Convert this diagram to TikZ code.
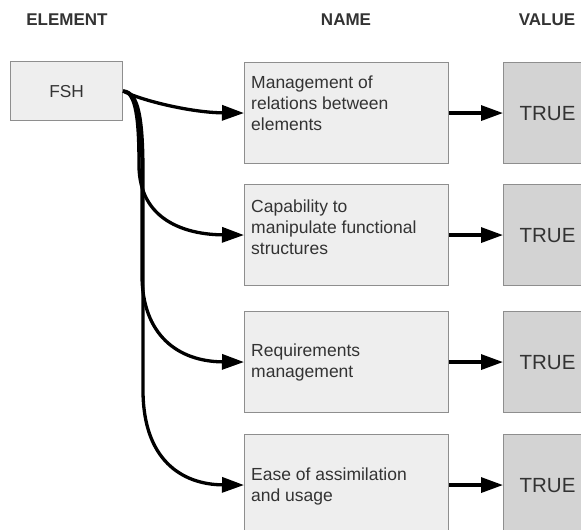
\documentclass[tikz,border=0pt]{standalone}
\usepackage{fontspec}
\setmainfont{Liberation Sans}
\usetikzlibrary{arrows.meta,calc}

\definecolor{inktext}{HTML}{333333}
\definecolor{paleface}{HTML}{EEEEEE}
\definecolor{valueface}{HTML}{D3D3D3}
\definecolor{boxline}{HTML}{8E8E8E}

\begin{document}
\begin{tikzpicture}[x=1pt,y=-1pt,
  header/.style={font=\fontsize{17}{20}\selectfont\bfseries, text=inktext, anchor=base},
  cellbox/.style={draw=boxline, line width=1.1pt, anchor=north west, inner sep=0pt},
  elembox/.style={cellbox, fill=paleface, minimum width=112, minimum height=59},
  namebox/.style={cellbox, fill=paleface, minimum width=204, minimum height=101},
  valuebox/.style={cellbox, fill=valueface, minimum width=88, minimum height=101},
  nametext/.style={font=\fontsize{17.5}{21}\selectfont, text=inktext, align=left, anchor=north west, inner sep=0pt},
  valtext/.style={font=\fontsize{20.5}{24}\selectfont, text=inktext},
  link/.style={line width=3.3pt, -{Triangle[length=22pt,width=15pt]}},
]
\useasboundingbox (0,0) rectangle (581,530);
\clip (0,0) rectangle (581,530);
\fill[white] (0,0) rectangle (581,530);

% column headers
\node[header] (hElem) at (67,25) {ELEMENT};
\node[header] (hName) at (346,25) {NAME};
\node[header] (hVal)  at (547,25) {VALUE};

% element box
\node[elembox, font=\fontsize{17.3}{20}\selectfont, text=inktext] (fsh) at (10,61) {FSH};

% name boxes
\node[namebox] (n1) at (244,62)  {};
\node[namebox] (n2) at (244,184) {};
\node[namebox] (n3) at (244,311) {};
\node[namebox] (n4) at (244,434) {};

\node[nametext] (t1) at ($(n1.north west)+(7,14)$) {Management of\\relations between\\elements};
\node[nametext] (t2) at ($(n2.north west)+(7,16)$) {Capability to\\manipulate functional\\structures};
\node[nametext] (t3) at ($(n3.north west)+(7,33)$) {Requirements\\management};
\node[nametext] (t4) at ($(n4.north west)+(7,34)$) {Ease of assimilation\\and usage};

% value boxes
\node[valuebox, valtext] (v1) at (503,62)  {TRUE};
\node[valuebox, valtext] (v2) at (503,184) {TRUE};
\node[valuebox, valtext] (v3) at (503,311) {TRUE};
\node[valuebox, valtext] (v4) at (503,434) {TRUE};

% name -> value
\draw[link] (n1.east) -- (v1.west);
\draw[link] (n2.east) -- (v2.west);
\draw[link] (n3.east) -- (v3.west);
\draw[link] (n4.east) -- (v4.west);

% element -> names
\draw[link] (fsh.east) .. controls (140,100) and (190,112.5) .. (n1.west);
\draw[link] (fsh.east) .. controls (136,92) and (139,120) .. (139,165)
  .. controls (139,220) and (185,234.5) .. (n2.west);
\draw[link] (fsh.east) .. controls (138,92) and (142,120) .. (142,170)
  -- (142,275) .. controls (142,335) and (178,361.5) .. (n3.west);
\draw[link] (fsh.east) .. controls (139,92) and (143,120) .. (143,175)
  -- (143,390) .. controls (143,460) and (182,484.5) .. (n4.west);
\end{tikzpicture}
\end{document}
